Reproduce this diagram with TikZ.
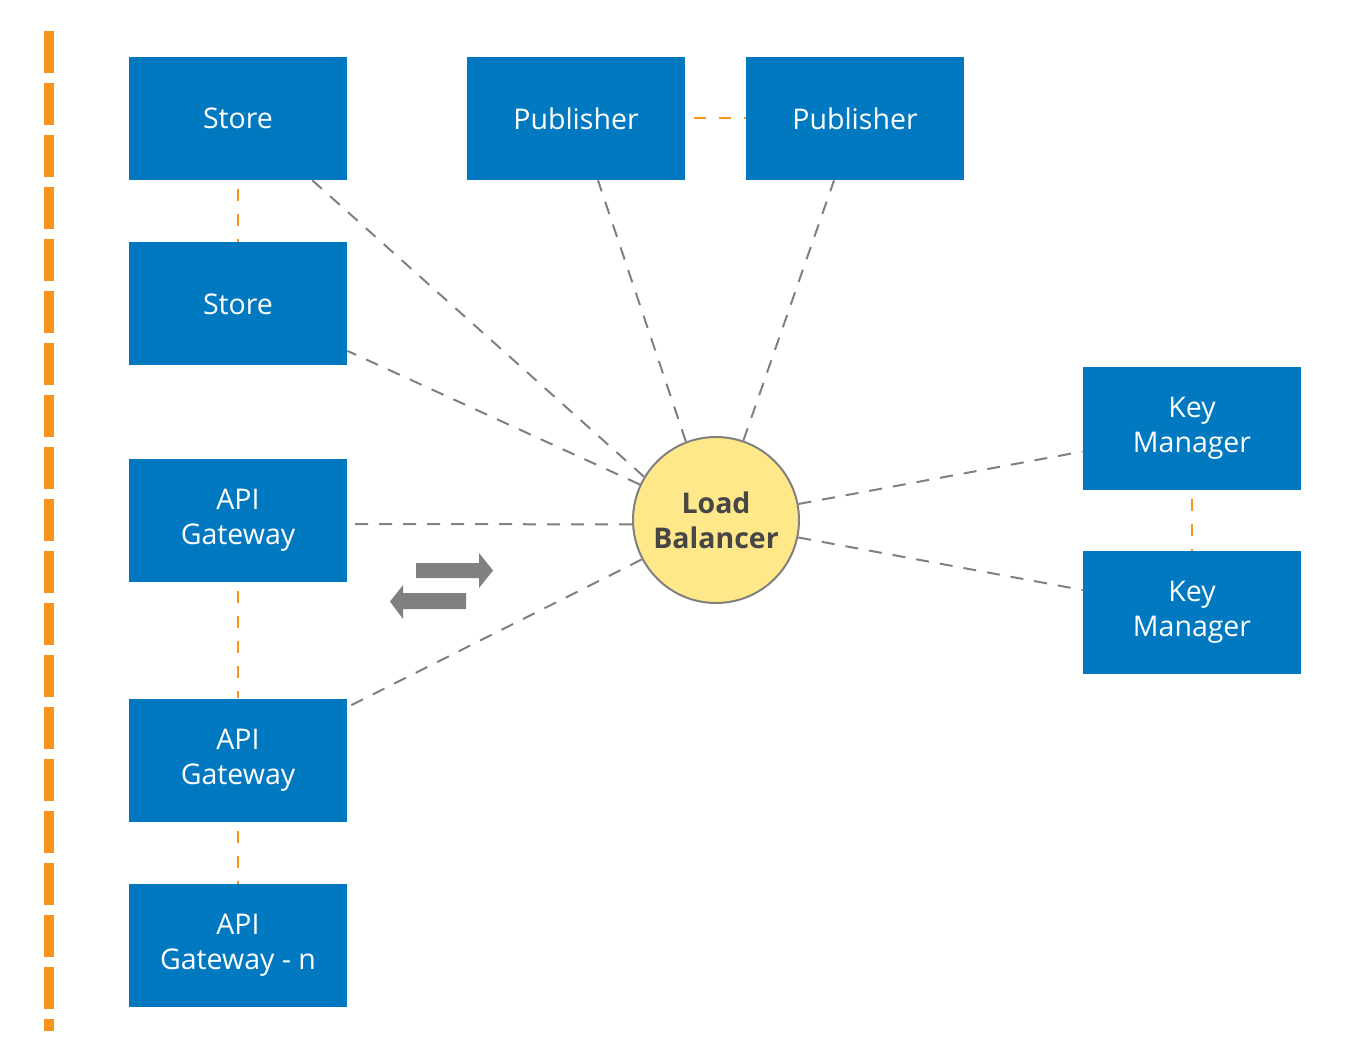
\documentclass[tikz,border=0pt]{standalone}
\usepackage{fontspec}
\setmainfont{Open Sans}
\definecolor{boxBlue}{HTML}{0079C1}
\definecolor{lbYellow}{HTML}{FFE88A}
\definecolor{lbText}{HTML}{464646}
\definecolor{lineGray}{HTML}{808080}
\definecolor{peerOrange}{HTML}{F7941D}

\begin{document}
\begin{tikzpicture}
[x=0.5pt,y=-0.5pt,
  boxDecorate/.style={shape=rectangle,fill=boxBlue,text=white,inner sep=0pt,%
    minimum width=109pt,minimum height=61.5pt,align=center,%
    font=\fontsize{14.25}{17.5}\selectfont},%
  lbDecorate/.style={shape=circle,fill=lbYellow,draw=lineGray,line width=1pt,%
    minimum size=83pt,inner sep=0pt,align=center,text=lbText,%
    font=\fontsize{14.25}{17.5}\selectfont\bfseries},%
  linkDecorate/.style={-,draw=lineGray,line width=1pt,dash pattern=on 6.5pt off 5.5pt},%
  peerDecorate/.style={-,draw=peerOrange,line width=1pt,dash pattern=on 6pt off 6.5pt,dash phase=8pt}]
\useasboundingbox (0,0) rectangle (1363,1063);
%% cluster border
\draw[peerOrange,line width=5pt,dash pattern=on 21pt off 5pt] (48.5,31) -- (48.5,1031);
%% nodes or vertices
\foreach \nodename/\x/\y/\nodetext in {
  store1/238/118.5/Store, store2/238/304/Store,
  gw1/238/520.5/{API\\Gateway}, gw2/238/760/{API\\Gateway},
  gwn/238/945.5/{API\\Gateway - n},
  pub1/576/118.5/Publisher, pub2/855/118.5/Publisher,
  km1/1192/428.5/{Key\\Manager}, km2/1192/612.5/{Key\\Manager}}
{
  \node (\nodename) at (\x,\y) [boxDecorate] {\nodetext};
}
\node (lb) at (716,520) [lbDecorate] {Load\\Balancer};
%% edges or lines
\path
\foreach \startnode/\endnode in {
  store1.south/store2.north, gw1.south/gw2.north, gw2.south/gwn.north,
  pub1.east/pub2.west, km1.south/km2.north}
{
  (\startnode) edge[peerDecorate] (\endnode)
};
\path
\foreach \endnode/\dx/\dy/\angle in {
  store1.south east/-17.5/0/149, store2.south east/0/7.5/155,
  pub1.south/11/0/111, pub2.south/-10.5/0/71,
  gw1.east/0/-1.75/183, gw2.north east/0/-4.5/208,
  km1.west/0/-11.5/11, km2.west/0/11.25/348}
{
  (lb.\angle) edge[linkDecorate] ([xshift=\dx pt,yshift=\dy pt]\endnode)
};
%% request arrows
\fill[lineGray] (416,563) -- (479,563) -- (479,553) -- (493,570.5)
  -- (479,588) -- (479,578) -- (416,578) -- cycle;
\fill[lineGray] (466,593) -- (403,593) -- (403,585) -- (390,601.5)
  -- (403,619) -- (403,609) -- (466,609) -- cycle;
\end{tikzpicture}
\end{document}
